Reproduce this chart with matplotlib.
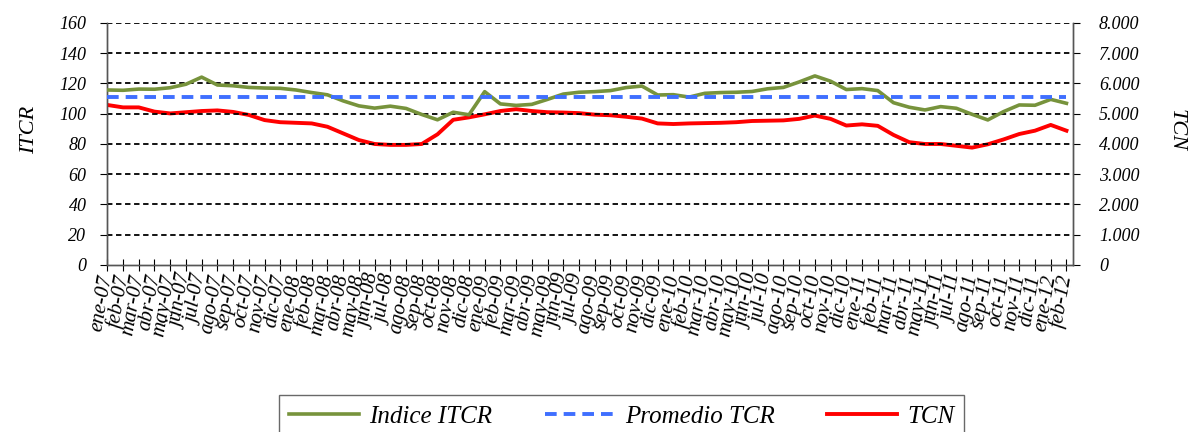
import numpy as np
import matplotlib.pyplot as plt
from matplotlib.ticker import FuncFormatter

meses = ['ene', 'feb', 'mar', 'abr', 'may', 'jun', 'jul', 'ago', 'sep', 'oct', 'nov', 'dic']
labels = [m + '-' + y for y in ['07', '08', '09', '10', '11'] for m in meses] + ['ene-12', 'feb-12']

itcr = [115.7, 115.5, 116.3, 116.2, 117.2, 119.5, 124.2, 119.0, 118.5, 117.4,
        117.0, 116.8, 115.7, 114.0, 112.5, 108.5, 105.2, 103.7, 105.0, 103.5,
        99.5, 96.0, 101.0, 99.3, 114.6, 106.5, 105.5, 106.2, 109.5, 113.0,
        114.2, 114.6, 115.3, 117.3, 118.3, 112.4, 112.6, 111.0, 113.5, 114.0,
        114.2, 114.7, 116.5, 117.4, 121.0, 125.0, 121.5, 116.0, 116.6, 115.3,
        107.3, 104.3, 102.5, 104.7, 103.6, 99.6, 95.9, 101.4, 105.8, 105.6,
        109.5, 106.9]

tcn = [5290, 5210, 5210, 5070, 5010, 5050, 5090, 5110, 5060, 4960,
       4790, 4720, 4700, 4680, 4570, 4350, 4130, 4000, 3970, 3970,
       4000, 4320, 4800, 4880, 4980, 5090, 5150, 5090, 5050, 5040,
       5020, 4970, 4950, 4900, 4840, 4680, 4660, 4680, 4690, 4700,
       4720, 4760, 4770, 4780, 4830, 4940, 4830, 4610, 4650, 4600,
       4300, 4060, 4000, 4000, 3940, 3880, 3990, 4150, 4330, 4440,
       4630, 4440]

promedio = 111.0

serif = 'Liberation Serif'
x = np.arange(len(labels))

fig = plt.figure(figsize=(11.91, 4.32), dpi=100)
ax = fig.add_axes([0.0901, 0.3866, 0.8106, 0.5602])
ax2 = ax.twinx()

ax.set_ylim(0, 160)
ax.set_yticks(np.arange(0, 161, 20))
ax2.set_ylim(0, 8000)
ax2.set_yticks(np.arange(0, 8001, 1000))
ax.set_xlim(0, 61.4)

for v in range(20, 161, 20):
    ax.axhline(v, color='black', lw=1.3, ls=(0, (3, 2)), zorder=1)

l1, = ax.plot(x, itcr, color='#77933C', lw=2.6, zorder=3, label='Indice ITCR')
l2, = ax.plot([0, 61], [promedio, promedio], color='#3F6FFF', lw=2.8,
              ls=(0, (3, 1.8)), zorder=3, label='Promedio TCR')
l3, = ax2.plot(x, tcn, color='#FF0000', lw=2.8, zorder=3, label='TCN')
ax.set_zorder(ax2.get_zorder() + 1)
ax.patch.set_visible(False)

for a in (ax, ax2):
    a.spines['top'].set_visible(False)
    for s in a.spines.values():
        s.set_color('#555555')
        s.set_linewidth(1.0)

ax.set_xticks(x)
ax.set_xticklabels(labels, rotation=80, rotation_mode='anchor', ha='right',
                   va='center', fontsize=15, family=serif, style='italic')
ax.tick_params(axis='x', direction='inout', length=8, pad=3)
ax.tick_params(axis='y', direction='out', length=5, pad=10, labelsize=13)
ax2.tick_params(axis='y', direction='out', length=5, pad=14, labelsize=13)
for t in ax.get_yticklabels() + ax2.get_yticklabels():
    t.set_family(serif)
    t.set_style('italic')

ax2.yaxis.set_major_formatter(FuncFormatter(lambda v, p: '0' if v == 0 else f'{int(v):,}'.replace(',', '.')))

fig.text(30 / 1191, 1 - 130 / 432, 'ITCR', rotation=90, ha='center', va='center',
         fontsize=16, family=serif, style='italic')
fig.text(1176 / 1191, 1 - 130 / 432, 'TCN', rotation=270, ha='center', va='center',
         fontsize=16, family=serif, style='italic')

leg = fig.legend(handles=[l1, l2, l3], loc='center', bbox_to_anchor=(0.522, 0.036),
                 ncol=3, frameon=True, fancybox=False, handlelength=2.8, handletextpad=0.4,
                 columnspacing=2.1, prop={'family': serif, 'style': 'italic', 'size': 18},
                 borderpad=0.4, borderaxespad=0)
leg.get_frame().set_edgecolor('#444444')
leg.get_frame().set_linewidth(1.0)

fig.savefig('out.png', dpi=100)
